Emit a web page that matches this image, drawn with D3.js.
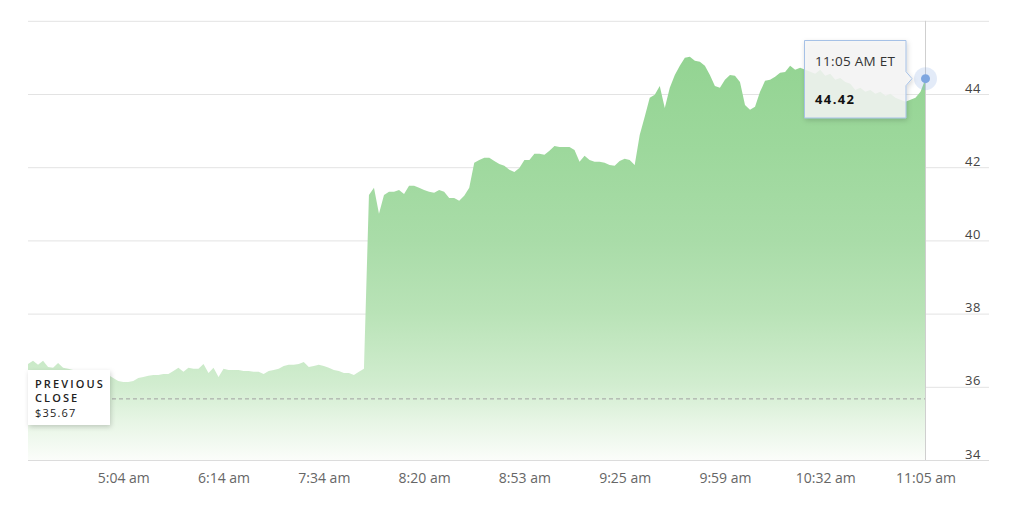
<!DOCTYPE html>
<html>
<head>
<meta charset="utf-8">
<script src="https://cdn.jsdelivr.net/npm/d3@7"></script>
<style>
  html, body { margin: 0; padding: 0; background: #fff; }
  svg { display: block; font-family: "Open Sans", "DejaVu Sans", sans-serif; }
</style>
</head>
<body>
<svg id="chart" width="1020" height="517"></svg>
<script>
// ---- data ----
const prices = [
  36.62, 36.71, 36.60, 36.71, 36.54, 36.52, 36.65, 36.52, 36.49, 36.46,
  36.46, 36.43, 36.46, 36.41, 36.38, 36.35, 36.32, 36.24, 36.16, 36.13,
  36.13, 36.16, 36.24, 36.27, 36.30, 36.32, 36.32, 36.35, 36.35, 36.43,
  36.52, 36.41, 36.52, 36.49, 36.49, 36.62, 36.38, 36.52, 36.27, 36.49,
  36.46, 36.46, 36.46, 36.43, 36.43, 36.41, 36.41, 36.35, 36.43, 36.46,
  36.49, 36.57, 36.60, 36.60, 36.62, 36.68, 36.54, 36.57, 36.60, 36.57,
  36.52, 36.46, 36.43, 36.38, 36.38, 36.32, 36.41, 36.49, 41.24, 41.44,
  40.73, 41.24, 41.33, 41.33, 41.38, 41.27, 41.49, 41.49, 41.44, 41.38,
  41.33, 41.30, 41.38, 41.33, 41.16, 41.16, 41.08, 41.22, 41.44, 42.12,
  42.20, 42.26, 42.26, 42.17, 42.09, 42.04, 41.93, 41.87, 41.98, 42.20,
  42.20, 42.37, 42.37, 42.34, 42.45, 42.58, 42.55, 42.55, 42.55, 42.47,
  42.15, 42.31, 42.20, 42.15, 42.15, 42.12, 42.06, 42.04, 42.17, 42.23,
  42.20, 42.06, 42.88, 43.38, 43.90, 43.98, 44.22, 43.62, 44.17, 44.52,
  44.77, 44.99, 45.02, 44.91, 44.88, 44.77, 44.52, 44.22, 44.17, 44.39,
  44.52, 44.50, 44.33, 43.70, 43.57, 43.65, 44.06, 44.36, 44.39, 44.47,
  44.58, 44.60, 44.77, 44.66, 44.72, 44.66, 44.61, 44.55, 44.66, 44.50,
  44.55, 44.39, 44.44, 44.33, 44.28, 44.11, 44.17, 44.06, 44.11, 44.01,
  44.06, 43.95, 44.01, 43.90, 43.84, 43.79, 43.84, 43.90, 44.06, 44.42
];
const tickIndex = [19, 39, 59, 79, 99, 119, 139, 159, 179];
const tickLabels = ["5:04 am", "6:14 am", "7:34 am", "8:20 am", "8:53 am", "9:25 am", "9:59 am", "10:32 am", "11:05 am"];
const yTicks = [34, 36, 38, 40, 42, 44];
const yGrid = [34, 36, 38, 40, 42, 44, 46];
const previousClose = 35.67;
const lastTimeLabel = "11:05 AM ET";

(function () {
// ---- layout ----
const svg = d3.select("#chart");
const pLeft = 28, pRight = 989, plotEnd = 925.5, pTop = 20.8, pBottom = 460;

const x = d3.scaleLinear().domain([0, prices.length - 1]).range([pLeft, plotEnd]);
const y = d3.scaleLinear().domain([34, 46]).range([pBottom, pTop]);

// gradient
const defs = svg.append("defs");
const grad = defs.append("linearGradient")
  .attr("id", "areaGrad").attr("gradientUnits", "userSpaceOnUse")
  .attr("x1", 0).attr("x2", 0).attr("y1", 45).attr("y2", pBottom);
[[0, "#92d391"], [0.253, "#9dd89c"], [0.47, "#a9dca8"], [0.646, "#b9e3b7"],
 [0.822, "#d2edd0"], [0.904, "#e6f5e4"], [1, "#fbfdfa"]].forEach(s =>
  grad.append("stop").attr("offset", s[0]).attr("stop-color", s[1]));

const shadow = defs.append("filter").attr("id", "shadow")
  .attr("x", "-20%").attr("y", "-20%").attr("width", "150%").attr("height", "150%");
shadow.append("feDropShadow").attr("dx", 1).attr("dy", 2).attr("stdDeviation", 2.5)
  .attr("flood-color", "#000").attr("flood-opacity", 0.18);

// gridlines (via axis)
const gridAxis = d3.axisLeft(y).tickValues(yGrid).tickSize(pRight - pLeft).tickFormat("");
const gGrid = svg.append("g").attr("transform", `translate(${pRight},0)`).call(gridAxis);
gGrid.select(".domain").remove();
gGrid.selectAll(".tick line").attr("stroke", "#e3e3e3").attr("stroke-width", 1);

// area
const area = d3.area()
  .x((d, i) => x(i))
  .y0(y(34))
  .y1(d => y(d));
svg.append("path").datum(prices).attr("d", area).attr("fill", "url(#areaGrad)");

// previous close dashed line
svg.append("line")
  .attr("x1", pLeft).attr("x2", plotEnd)
  .attr("y1", y(previousClose)).attr("y2", y(previousClose))
  .attr("stroke", "#a0a0a0").attr("stroke-width", 1).attr("stroke-dasharray", "4,3");

// crosshair
svg.append("line")
  .attr("x1", x(prices.length - 1)).attr("x2", x(prices.length - 1))
  .attr("y1", pTop).attr("y2", pBottom)
  .attr("stroke", "#cfcfcf").attr("stroke-width", 1);

// y labels
const yAxis = d3.axisRight(y).tickValues(yTicks).tickSize(0).tickPadding(0);
const gY = svg.append("g").attr("transform", `translate(973,0)`).call(yAxis);
gY.select(".domain").remove();
gY.selectAll(".tick text")
  .attr("text-anchor", "middle").attr("x", 0).attr("dy", "-2px")
  .attr("font-family", "'Open Sans', sans-serif").attr("font-size", 13)
  .attr("fill", "#444").attr("letter-spacing", "0.5px");

// x labels
const xAxis = d3.axisBottom(x).tickValues(tickIndex)
  .tickFormat((d, i) => tickLabels[i]).tickSize(0).tickPadding(0);
const gX = svg.append("g").attr("transform", `translate(0,${pBottom})`).call(xAxis);
gX.select(".domain").remove();
gX.selectAll(".tick text")
  .attr("y", 23).attr("dy", 0)
  .attr("font-family", "'Open Sans', sans-serif").attr("font-size", 14)
  .attr("fill", "#666");

// bottom line
svg.append("line").attr("x1", pLeft).attr("x2", pRight).attr("y1", pBottom + 0.5).attr("y2", pBottom + 0.5)
  .attr("stroke", "#dcdcdc");

// previous close label
const pc = svg.append("g");
pc.append("rect").attr("x", 28).attr("y", 370).attr("width", 82).attr("height", 55)
  .attr("fill", "#fff").attr("filter", "url(#shadow)");
pc.append("text").attr("x", 35).attr("y", 388).text("PREVIOUS")
  .attr("font-size", 11).attr("font-weight", 600).attr("letter-spacing", "2.1px").attr("fill", "#222");
pc.append("text").attr("x", 35).attr("y", 402).text("CLOSE")
  .attr("font-size", 11).attr("font-weight", 600).attr("letter-spacing", "2.1px").attr("fill", "#222");
pc.append("text").attr("x", 35).attr("y", 417).text("$" + previousClose.toFixed(2))
  .attr("font-size", 11).attr("letter-spacing", "1.2px").attr("fill", "#222");

// tooltip
const last = prices[prices.length - 1];
const px = x(prices.length - 1), py = y(last);
svg.append("circle").attr("cx", px).attr("cy", py).attr("r", 11.5).attr("fill", "#7ea6e0").attr("opacity", 0.22);
svg.append("circle").attr("cx", px).attr("cy", py).attr("r", 4.5).attr("fill", "#7ea6e0");

const tt = svg.append("g");
const bx = 804.5, by = 40.5, bw = 101.5, bh = 77.5;
const ay = py;
tt.append("path")
  .attr("d", `M${bx},${by} H${bx + bw} V${ay - 7} L${bx + bw + 6},${ay} L${bx + bw},${ay + 7} V${by + bh} H${bx} Z`)
  .attr("fill", "rgba(246,246,246,0.85)").attr("stroke", "#a6c1e6").attr("stroke-width", 1)
  .attr("filter", "url(#shadow)");
tt.append("text").attr("x", 815).attr("y", 66).text(lastTimeLabel)
  .attr("font-size", 13.5).attr("letter-spacing", "0.3px").attr("fill", "#333");
tt.append("text").attr("x", 815).attr("y", 104).text(last.toFixed(2))
  .attr("font-size", 13).attr("font-weight", 700).attr("letter-spacing", "1.4px").attr("fill", "#111");
})();
</script>
</body>
</html>
